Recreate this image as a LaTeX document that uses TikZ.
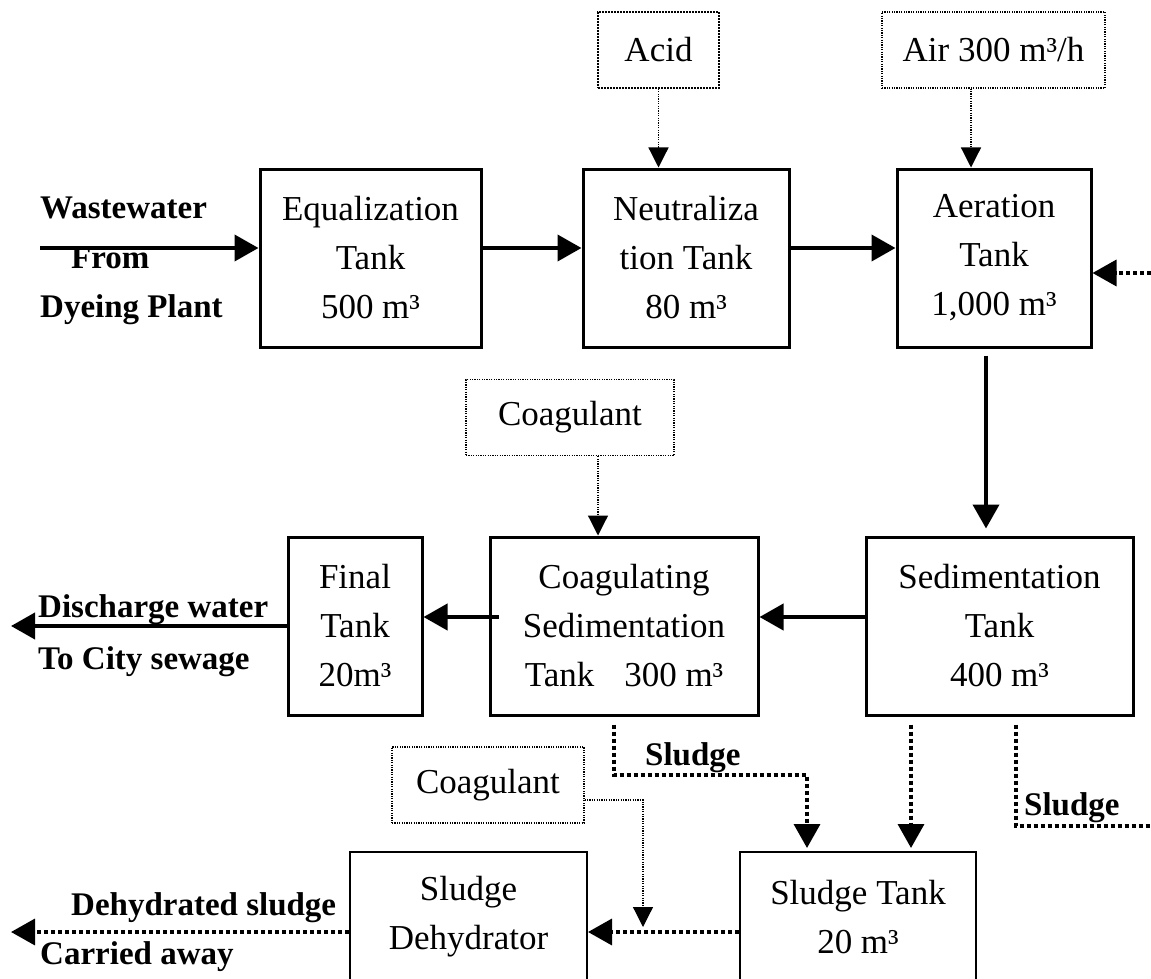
\documentclass[tikz,border=0pt]{standalone}
\usepackage{fontspec}
\setmainfont{Liberation Serif}
\usetikzlibrary{arrows.meta}
\begin{document}
\begin{tikzpicture}[x=1pt,y=-1pt,
  tank/.style={draw, line width=3pt, minimum height=178pt, inner sep=0pt,
    align=center, font=\fontsize{35}{49}\selectfont},
  agent/.style={draw, line width=1.2pt, dash pattern=on 1.2pt off 1.2pt,
    minimum height=76pt, inner sep=0pt, font=\fontsize{35}{42}\selectfont},
  lbl/.style={anchor=base west, inner sep=0pt,
    font=\fontsize{33}{40}\selectfont\bfseries},
  flow/.style={line width=4pt, -{Triangle[length=24pt,width=26pt]}},
  feed/.style={line width=1.2pt, dash pattern=on 1.2pt off 1.2pt,
    -{Triangle[length=20pt,width=20pt]}},
  sludgeline/.style={line width=3.5pt, dash pattern=on 4pt off 3pt},
  sludge/.style={sludgeline, -{Triangle[length=24pt,width=26pt]}}
]
\useasboundingbox (0,0) rectangle (1151,979);

% process tanks
\node[tank, minimum width=221pt] (eq) at (370.5,258) {Equalization\\Tank\\500 m³};
\node[tank, minimum width=206pt] (neut) at (686,258) {Neutraliza\\tion Tank\\80 m³};
\node[tank, minimum width=194pt] (aer) at (994,258) {Aeration\\Tank\\1,000 m³};
\node[tank, minimum width=134pt] (final) at (355,626) {Final\\Tank\\20m³};
\node[tank, minimum width=268pt] (coagsed) at (624,626) {Coagulating\\Sedimentation\\Tank\hspace{30pt}300 m³};
\node[tank, minimum width=267pt] (sed) at (999.5,626) {Sedimentation\\Tank\\400 m³};
\node[tank, line width=2pt, minimum width=237pt, minimum height=130pt] (dehyd) at (468.5,917) {Sludge\\Dehydrator};
\node[tank, line width=2pt, minimum width=236pt, minimum height=130pt] (stank) at (858,917) {Sludge Tank\\20 m³};

% dosing / supply boxes
\node[agent, line width=1.8pt, dash pattern=on 1.8pt off 1.2pt, minimum width=121pt] (acid) at (658.5,50) {Acid};
\node[agent, minimum width=223pt] (air) at (993.5,50) {Air 300 m³/h};
\node[agent, minimum width=208pt] (coagA) at (570,417.5) {Coagulant};
\node[agent, minimum width=192pt] (coagB) at (488,785) {Coagulant};

% free ends of connectors
\coordinate (src) at (40,248);
\coordinate (ret) at (1151,273);
\coordinate (dis) at (11,626);
\coordinate (bend) at (807,775);
\coordinate (sout) at (1151,826);
\coordinate (drop) at (643,800);
\coordinate (droptip) at (643,927);
\coordinate (cake) at (11,932);

% main water line
\draw[flow] (src) -- (src -| eq.west);
\draw[flow] ([yshift=10pt]eq.east) -- ([yshift=10pt]neut.west);
\draw[flow] ([yshift=10pt]neut.east) -- ([yshift=10pt]aer.west);
\draw[flow, shorten <=7pt, shorten >=7pt] ([xshift=-8pt]aer.south) -- ([xshift=-8pt]aer.south |- sed.north);
\draw[flow] ([yshift=9pt]sed.west) -- ([yshift=9pt]coagsed.east);
\draw[flow] ([yshift=9pt,xshift=10pt]coagsed.west) -- ([yshift=9pt]final.east);
\draw[flow] (final.west) -- (final.west -| dis);

% chemical and air feeds
\draw[feed] (acid.south) -- (acid.south |- neut.north);
\draw[feed] ([xshift=-22.5pt]air.south) -- ([xshift=-22.5pt]air.south |- aer.north);
\draw[feed] ([xshift=28pt]coagA.south) -- ([xshift=28pt]coagA.south |- coagsed.north);
\draw[feed] ([yshift=-15pt]coagB.east) -- (drop) -- (droptip);

% sludge lines
\draw[sludge] (ret) -- (ret -| aer.east);
\draw[sludge, shorten >=3pt] ([xshift=-10pt,yshift=-8pt]coagsed.south) |- (bend) -- (bend |- stank.north);
\draw[sludge, shorten >=3pt] ([xshift=-88.5pt,yshift=-8pt]sed.south) -- ([xshift=-88.5pt]sed.south |- stank.north);
\draw[sludgeline] ([xshift=16.5pt,yshift=-8pt]sed.south) |- (sout);
\draw[sludge] ([yshift=-15pt]stank.west) -- ([yshift=-15pt]dehyd.east);
\draw[sludge] ([yshift=-15pt]dehyd.west) -- (cake);

% bold captions
\node[lbl] (l1) at (40,218) {Wastewater};
\node[lbl] (l2) at (71,268) {From};
\node[lbl] (l3) at (40,317) {Dyeing Plant};
\node[lbl] (l4) at (38,617) {Discharge water};
\node[lbl] (l5) at (38,669) {To City sewage};
\node[lbl] (l6) at (645,765) {Sludge};
\node[lbl] (l7) at (1024,815) {Sludge};
\node[lbl] (l8) at (71,915) {Dehydrated sludge};
\node[lbl] (l9) at (40,964) {Carried away};
\end{tikzpicture}
\end{document}
